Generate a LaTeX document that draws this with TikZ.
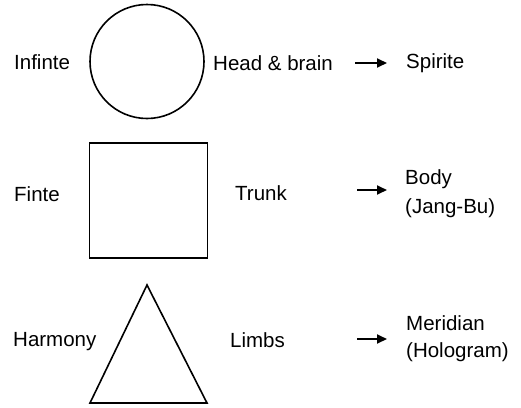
\documentclass[tikz,border=0pt]{standalone}
\usepackage{fontspec}
\setmainfont{Liberation Sans}
\usetikzlibrary{arrows.meta}
\begin{document}
\begin{tikzpicture}[x=1pt,y=-1pt,
  lbl/.style={anchor=west,inner sep=0pt,font=\fontsize{20.5}{24}\selectfont},
  shp/.style={draw=black,line width=1.6pt},
  arr/.style={line width=1.8pt,-{Triangle[length=10pt,width=9pt]}}]
\useasboundingbox (0,0) rectangle (521,407);
% row 1
\node[lbl] (inf) at (14,62) {Infinte};
\node[shp,circle,minimum size=114pt,inner sep=0pt] (circ) at (147,61.5) {};
\node[lbl] (hb) at (213,63) {Head \& brain};
\node[lbl] (spi) at (406,63) {Spirite};
\coordinate (a1s) at (355,63);
\coordinate (a1e) at (387,63);
\draw[arr] (a1s) -- (a1e);
% row 2
\node[lbl] (fin) at (14,194) {Finte};
\node[shp,rectangle,minimum width=118pt,minimum height=115pt,inner sep=0pt] (sq) at (148.5,200.5) {};
\node[lbl] (tr) at (235,193) {Trunk};
\node[lbl] (body) at (405,179) {Body};
\node[lbl] (jb) at (405,208) {(Jang-Bu)};
\coordinate (a2s) at (357,190);
\coordinate (a2e) at (387,190);
\draw[arr] (a2s) -- (a2e);
% row 3
\node[lbl] (har) at (13,342) {Harmony};
\coordinate (tA) at (147,285);
\coordinate (tB) at (90,403);
\coordinate (tC) at (207,403);
\draw[shp,line join=miter] (tA) -- (tB) -- (tC) -- cycle;
\node[lbl] (lim) at (230,340) {Limbs};
\node[lbl] (mer) at (406,323) {Meridian};
\node[lbl] (hol) at (406,352) {(Hologram)};
\coordinate (a3s) at (357,339);
\coordinate (a3e) at (387,339);
\draw[arr] (a3s) -- (a3e);
\end{tikzpicture}
\end{document}
